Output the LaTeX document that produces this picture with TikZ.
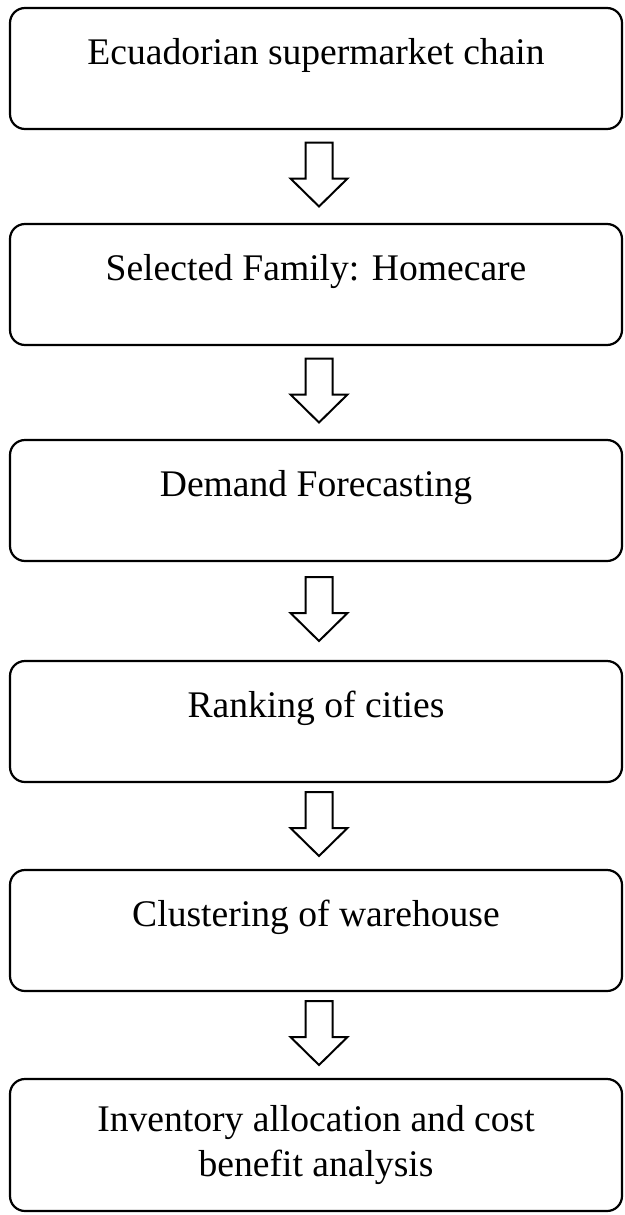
\documentclass[tikz,border=0pt]{standalone}
\usepackage{fontspec}
\setmainfont{Liberation Serif}
\usepackage{tikz}
\usetikzlibrary{positioning, calc}

\begin{document}
\begin{tikzpicture}[
        x=1pt, y=1pt,
        box/.style={rectangle, rounded corners=15pt, draw=black, line width=2.2pt, fill=white, outer sep=0pt,
            minimum width=612pt, minimum height=121pt, align=center,
            font=\fontsize{37.6}{45}\selectfont, text height=27pt, text depth=36pt},
        lastbox/.style={box, minimum height=132pt, text height=, text depth=},
        hollow/.style={draw=black, line width=2pt, fill=white}
    ]
        \useasboundingbox (0,0) rectangle (624,-1215);

        % Process steps
        \node[box] (chain) at (316,-68.5) {Ecuadorian supermarket chain};
        \node[box, below=95pt of chain] (family) {Selected Family: Homecare};
        \node[box, below=95pt of family] (demand) {Demand Forecasting};
        \node[box, below=100pt of demand] (ranking) {Ranking of cities};
        \node[box, below=88pt of ranking] (cluster) {Clustering of warehouse};
        \node[lastbox, below=88pt of cluster] (inventory) {Inventory allocation and cost\\benefit analysis};

        % Block arrows between steps
        \foreach \a/\b in {chain/family, family/demand, demand/ranking, ranking/cluster, cluster/inventory}
            \draw[hollow] ($(\a.south)!0.5!(\b.north)+(-10.5,34)$) -- ++(27,0) -- ++(0,-36) -- ++(15,0)
                -- ++(-28.5,-28) -- ++(-28.5,28) -- ++(15,0) -- cycle;
\end{tikzpicture}
\end{document}
